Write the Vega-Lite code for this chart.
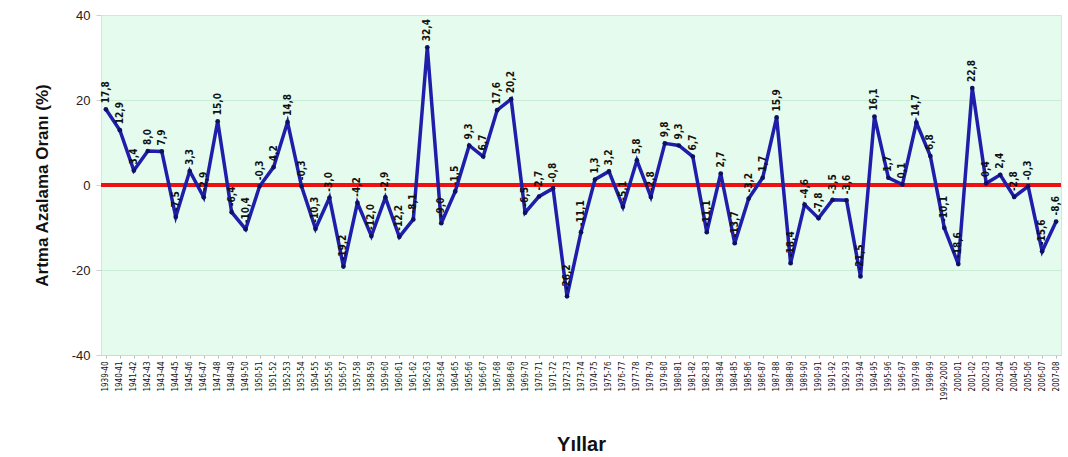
{
  "$schema": "https://vega.github.io/schema/vega-lite/v6.json",
  "width": 960,
  "height": 340,
  "autosize": "none",
  "padding": {"left": 101, "top": 15, "right": 7, "bottom": 102},
  "background": "white",
  "config": {
    "locale": {"number": {"decimal": ",", "thousands": ".", "grouping": [3], "currency": ["", " TL"], "minus": "-"}},
    "view": {"fill": "#e4fbee", "stroke": "#d6e6dc", "strokeWidth": 1},
    "font": "Liberation Sans"
  },
  "data": {
    "values": [
      {"yil": "1939-40", "oran": 17.8},
      {"yil": "1940-41", "oran": 12.9},
      {"yil": "1941-42", "oran": 3.4},
      {"yil": "1942-43", "oran": 8.0},
      {"yil": "1943-44", "oran": 7.9},
      {"yil": "1944-45", "oran": -7.5},
      {"yil": "1945-46", "oran": 3.3},
      {"yil": "1946-47", "oran": -2.9},
      {"yil": "1947-48", "oran": 15.0},
      {"yil": "1948-49", "oran": -6.4},
      {"yil": "1949-50", "oran": -10.4},
      {"yil": "1950-51", "oran": -0.3},
      {"yil": "1951-52", "oran": 4.2},
      {"yil": "1952-53", "oran": 14.8},
      {"yil": "1953-54", "oran": -0.3},
      {"yil": "1954-55", "oran": -10.3},
      {"yil": "1955-56", "oran": -3.0},
      {"yil": "1956-57", "oran": -19.2},
      {"yil": "1957-58", "oran": -4.2},
      {"yil": "1958-59", "oran": -12.0},
      {"yil": "1959-60", "oran": -2.9},
      {"yil": "1960-61", "oran": -12.2},
      {"yil": "1961-62", "oran": -8.1},
      {"yil": "1962-63", "oran": 32.4},
      {"yil": "1963-64", "oran": -9.0},
      {"yil": "1964-65", "oran": -1.5},
      {"yil": "1965-66", "oran": 9.3},
      {"yil": "1966-67", "oran": 6.7},
      {"yil": "1967-68", "oran": 17.6},
      {"yil": "1968-69", "oran": 20.2},
      {"yil": "1969-70", "oran": -6.5},
      {"yil": "1970-71", "oran": -2.7},
      {"yil": "1971-72", "oran": -0.8},
      {"yil": "1972-73", "oran": -26.2},
      {"yil": "1973-74", "oran": -11.1},
      {"yil": "1974-75", "oran": 1.3},
      {"yil": "1975-76", "oran": 3.2},
      {"yil": "1976-77", "oran": -5.1},
      {"yil": "1977-78", "oran": 5.8},
      {"yil": "1978-79", "oran": -2.8},
      {"yil": "1979-80", "oran": 9.8},
      {"yil": "1980-81", "oran": 9.3},
      {"yil": "1981-82", "oran": 6.7},
      {"yil": "1982-83", "oran": -11.1},
      {"yil": "1983-84", "oran": 2.7},
      {"yil": "1984-85", "oran": -13.7},
      {"yil": "1985-86", "oran": -3.2},
      {"yil": "1986-87", "oran": 1.7},
      {"yil": "1987-88", "oran": 15.9},
      {"yil": "1988-89", "oran": -18.4},
      {"yil": "1989-90", "oran": -4.6},
      {"yil": "1990-91", "oran": -7.8},
      {"yil": "1991-92", "oran": -3.5},
      {"yil": "1992-93", "oran": -3.6},
      {"yil": "1993-94", "oran": -21.5},
      {"yil": "1994-95", "oran": 16.1},
      {"yil": "1995-96", "oran": 1.7},
      {"yil": "1996-97", "oran": 0.1},
      {"yil": "1997-98", "oran": 14.7},
      {"yil": "1998-99", "oran": 6.8},
      {"yil": "1999-2000", "oran": -10.1},
      {"yil": "2000-01", "oran": -18.6},
      {"yil": "2001-02", "oran": 22.8},
      {"yil": "2002-03", "oran": 0.4},
      {"yil": "2003-04", "oran": 2.4},
      {"yil": "2004-05", "oran": -2.8},
      {"yil": "2005-06", "oran": -0.3},
      {"yil": "2006-07", "oran": -15.6},
      {"yil": "2007-08", "oran": -8.6}
    ]
  },
  "encoding": {
    "x": {
      "field": "yil", "type": "ordinal", "sort": null,
      "scale": {"type": "point", "padding": 0.35},
      "axis": {
        "title": "Yıllar", "titleFontSize": 20, "titleFontWeight": "bold", "titleFont": "Liberation Sans",
        "titlePadding": 34, "titleColor": "#111",
        "labelAngle": -90, "labelFontSize": 8, "labelColor": "#111",
        "labelFont": "'DejaVu Sans Condensed', 'Liberation Sans', sans-serif",
        "labelPadding": 3,
        "tickSize": 3, "tickColor": "#bbb", "domain": true, "domainColor": "#cfd8d2", "grid": false
      }
    },
    "y": {
      "field": "oran", "type": "quantitative",
      "scale": {"domain": [-40, 40]},
      "axis": {
        "title": "Artma Azalama Oranı (%)", "titleFontSize": 17, "titleFontWeight": "bold", "titleColor": "#111",
        "titlePadding": 20,
        "values": [-40, -20, 0, 20, 40], "format": "d",
        "labelFontSize": 13, "labelColor": "#222", "labelPadding": 6,
        "tickSize": 5, "tickColor": "#cfcfcf", "domain": false,
        "grid": true, "gridColor": "#c9ecd5", "gridWidth": 1
      }
    }
  },
  "layer": [
    {
      "mark": {"type": "rule", "color": "#f01010", "strokeWidth": 2.5},
      "encoding": {"x": null, "y": {"datum": 0, "type": "quantitative"}}
    },
    {
      "mark": {"type": "line", "color": "#1e1eaa", "strokeWidth": 3.5,
               "point": {"filled": true, "color": "#101060", "size": 22}}
    },
    {
      "mark": {"type": "text", "angle": 270, "align": "left", "baseline": "middle", "dx": 6,
               "fontSize": 10, "fontWeight": "bold",
               "font": "'DejaVu Sans Condensed', 'Liberation Sans', sans-serif", "color": "#111"},
      "encoding": {"text": {"field": "oran", "type": "quantitative", "format": ".1f"}}
    }
  ]
}
